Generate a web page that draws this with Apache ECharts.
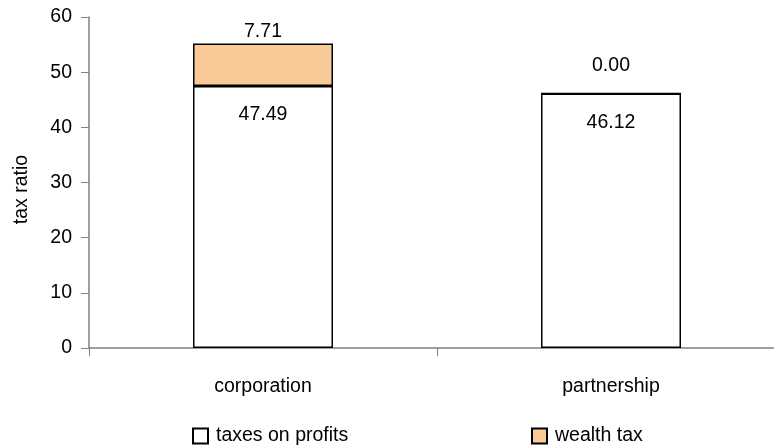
<!DOCTYPE html>
<html>
<head>
<meta charset="utf-8">
<script src="https://cdn.jsdelivr.net/npm/echarts@6/dist/echarts.min.js"></script>
<style>
html,body{margin:0;padding:0;background:#fff;}
#chart{width:774px;height:447px;}
</style>
</head>
<body>
<div id="chart"></div>
<script>
const categories = ['corporation', 'partnership'];
const taxesOnProfits = [47.49, 46.12];
const wealthTax = [7.71, 0.00];
const yTicks = [0, 10, 20, 30, 40, 50, 60];

const FONT = 'Liberation Sans, Arial, sans-serif';
const FS = 19.5;

const chart = echarts.init(document.getElementById('chart'));
chart.setOption({
  animation: false,
  backgroundColor: '#fff',
  textStyle: { fontFamily: FONT },
  grid: { left: 89, top: 17, bottom: 99, width: 696, outerBoundsMode: 'none' },
  legend: [
    {
      data: ['taxes on profits'], left: 187, top: 421, itemWidth: 15, itemHeight: 15, itemGap: 5,
      textStyle: { fontSize: FS, color: '#000', fontFamily: FONT, padding: [0, 0, 0, 3] }, icon: 'rect'
    },
    {
      data: ['wealth tax'], left: 526, top: 421, itemWidth: 15, itemHeight: 15, itemGap: 5,
      textStyle: { fontSize: FS, color: '#000', fontFamily: FONT, padding: [0, 0, 0, 3] }, icon: 'rect'
    }
  ],
  xAxis: {
    type: 'category',
    data: categories,
    axisLine: { lineStyle: { color: '#808080', width: 1.5 } },
    axisTick: { show: true, length: 8, lineStyle: { color: '#808080', width: 1 } },
    axisLabel: { fontSize: FS, color: '#000', margin: 29, fontFamily: FONT },
    splitLine: { show: false }
  },
  yAxis: {
    type: 'value',
    min: yTicks[0],
    max: yTicks[yTicks.length - 1],
    interval: 10,
    name: 'tax ratio',
    nameLocation: 'middle',
    nameGap: 57,
    nameTextStyle: { fontSize: FS, color: '#000', fontFamily: FONT, padding: [0, 14, 0, 0] },
    axisLine: { show: true, lineStyle: { color: '#808080', width: 1.5 } },
    axisTick: { show: true, length: 8, lineStyle: { color: '#808080', width: 1 } },
    axisLabel: { fontSize: FS, color: '#000', margin: 17, fontFamily: FONT },
    splitLine: { show: false }
  },
  series: [
    {
      name: 'taxes on profits',
      type: 'bar',
      stack: 'total',
      barWidth: 140,
      data: taxesOnProfits,
      itemStyle: { color: '#ffffff', borderColor: '#000000', borderWidth: 1.5 },
      label: {
        show: true, position: 'insideTop', distance: 19,
        fontSize: FS, color: '#000', fontFamily: FONT,
        formatter: p => p.value.toFixed(2)
      }
    },
    {
      name: 'wealth tax',
      type: 'bar',
      stack: 'total',
      barWidth: 140,
      data: wealthTax.map(v => v === 0
        ? { value: v, label: { distance: 17 } }
        : { value: v }),
      itemStyle: { color: '#F9CA95', borderColor: '#000000', borderWidth: 1.5 },
      label: {
        show: true, position: 'top', distance: 2,
        fontSize: FS, color: '#000', fontFamily: FONT,
        formatter: p => Number(p.value).toFixed(2)
      }
    }
  ]
});
</script>
</body>
</html>
